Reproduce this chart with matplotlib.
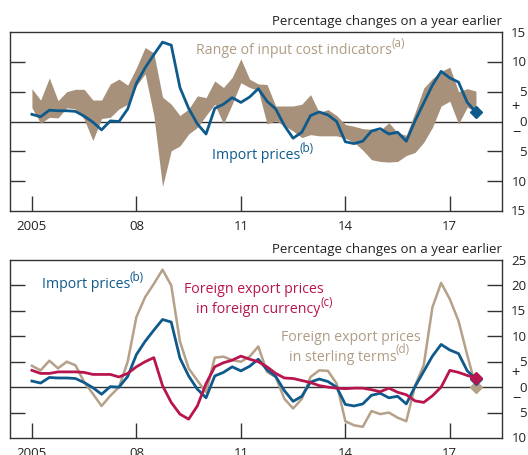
import matplotlib.pyplot as plt
import numpy as np

plt.rcParams['font.family'] = ['Open Sans', 'DejaVu Sans']

# quarterly, 2005 Q1 to 2017 Q4
quarters = 2005 + np.arange(52) / 4.0

# import prices (both panels)
import_prices = [1.2, 0.8, 1.9, 1.8, 1.8, 1.7, 0.9, -0.1, -1.4, 0.1, 0.0, 2.1,
                 6.4, 9.0, 11.2, 13.3, 12.8, 5.7, 2.2, -0.4, -2.1, 2.2, 2.9, 4.0,
                 3.2, 4.1, 5.5, 3.4, 2.1, -0.7, -2.8, -1.8, 1.0, 1.6, 1.1, 0.0,
                 -3.4, -3.7, -3.3, -1.6, -1.2, -2.1, -1.8, -3.3, 0.1, 3.1, 6.1, 8.4,
                 7.3, 6.6, 3.2, 1.6]

# range of input cost indicators
input_high = [5.5, 3.6, 7.3, 3.5, 5.0, 5.4, 5.4, 3.6, 3.6, 6.3, 7.1, 6.1,
              9.0, 12.4, 11.5, 4.1, 2.9, 1.0, 2.1, 4.3, 4.0, 6.8, 5.7, 7.4,
              10.5, 7.1, 6.3, 6.2, 2.6, 2.6, 2.6, 2.9, 4.5, 1.5, 2.0, 1.0,
              -0.5, -0.8, -1.2, -1.3, -1.5, -0.2, -1.9, -2.3, 1.5, 5.6, 7.2, 8.4,
              9.1, 5.0, 5.5, 5.1]
input_low = [2.3, -0.3, 0.7, 0.6, 2.3, 2.1, 0.4, -3.2, 0.5, 0.7, 2.1, 2.9,
             6.0, 8.0, 1.0, -10.9, -4.9, -4.1, -2.1, -1.0, 1.0, 2.9, -0.4, 2.9,
             6.5, 5.7, 5.2, -0.4, 0.1, -0.7, -1.6, -2.7, -2.2, -2.4, -2.4, -2.4,
             -2.8, -3.5, -4.8, -6.4, -6.7, -6.8, -6.7, -5.7, -5.2, -3.5, -1.0, 2.6,
             3.4, -0.4, 2.4, 1.6]

# foreign export prices in foreign currency
export_foreign = [3.3, 2.7, 2.7, 3.0, 3.0, 3.0, 2.9, 2.5, 2.5, 2.5, 2.0, 2.7,
                  4.0, 5.0, 5.8, 0.3, -3.0, -5.3, -6.3, -3.7, 0.7, 4.0, 4.8, 5.3,
                  6.1, 5.5, 5.0, 4.0, 2.7, 1.8, 1.7, 1.3, 0.9, 0.3, 0.0, -0.2,
                  -0.3, -0.2, -0.2, -0.5, -0.9, -0.2, -1.0, -1.5, -2.7, -3.0, -1.7, 0.0,
                  3.3, 2.9, 2.3, 1.8]

# foreign export prices in sterling terms
export_sterling = [4.2, 3.3, 5.2, 3.7, 5.0, 4.3, 1.0, -1.3, -3.7, -1.7, 0.0, 5.0,
                   13.8, 17.7, 20.3, 23.1, 20.0, 9.0, 3.7, 1.3, -1.0, 5.8, 6.0, 5.3,
                   5.0, 6.0, 8.0, 3.0, 2.0, -2.3, -4.2, -2.3, 2.0, 3.3, 3.2, 0.7,
                   -6.7, -7.5, -7.8, -4.7, -5.3, -5.0, -6.0, -6.7, 0.3, 4.3, 15.7, 20.5,
                   17.3, 13.0, 6.3, 0.0]

year_ticks = [2005, 2008, 2011, 2014, 2017]
year_labels = ['2005', '08', '11', '14', '17']

blue = '#0f5a8c'
band = '#a8917a'
tan = '#b5a088'
tan_text = '#b09c84'
crimson = '#b8154f'
dark = '#333333'
ink = '#222222'
fs = 9.5
lfs = 10.2

fig = plt.figure(figsize=(5.28, 4.56), dpi=100)
ax1 = fig.add_axes([0.0189, 0.5351, 0.932, 0.3925])
ax2 = fig.add_axes([0.0189, 0.0373, 0.932, 0.3903])


def style_axis(ax, lo, hi, marks, labels):
    ax.set_xlim(2004.37, 2018.5)
    ax.set_ylim(lo, hi)
    for s in ax.spines.values():
        s.set_color(dark)
        s.set_linewidth(1.0)
    ax.axhline(0, color=dark, lw=1.0, zorder=1)
    ax.set_xticks(year_ticks)
    ax.set_xticklabels(year_labels)
    ax.tick_params(axis='x', direction='in', length=10.5, width=1.0,
                   color=dark, pad=5.5, labelsize=fs, labelcolor=ink)
    ax.set_yticks(marks)
    ax.set_yticklabels([])
    ax.tick_params(axis='y', direction='in', length=10.5, width=1.0,
                   color=dark, left=True, right=True)
    # right-hand scale: values without signs, +/- either side of zero
    for v in labels:
        ax.annotate(str(abs(v)), xy=(1, v), xycoords=('axes fraction', 'data'),
                    xytext=(17.5, 0), textcoords='offset points',
                    ha='right', va='center', fontsize=fs, color=ink,
                    annotation_clip=False)
    ax.annotate('+', xy=(1, 0), xycoords=('axes fraction', 'data'),
                xytext=(10, 10.5), textcoords='offset points',
                ha='center', va='center', fontsize=10.5, color=ink)
    ax.annotate('\u2212', xy=(1, 0), xycoords=('axes fraction', 'data'),
                xytext=(10, -8), textcoords='offset points',
                ha='center', va='center', fontsize=10.5, color=ink)
    ax.text(1.0, 1.03, 'Percentage changes on a year earlier',
            transform=ax.transAxes, ha='right', va='bottom',
            fontsize=fs, color=ink)


def label(ax, x, y, text, note, color, ha='left'):
    # text with a raised footnote marker after it
    t = ax.text(x, y, text, fontsize=lfs, color=color, va='center', ha=ha)
    if note:
        ax.annotate(note, xy=(1, 0.55), xycoords=t, xytext=(-0.5, 0),
                    textcoords='offset points', fontsize=lfs * 0.82,
                    color=color, ha='left', va='bottom')
    return t


# top panel
style_axis(ax1, -15, 15, [-10, -5, 5, 10], [15, 10, 5, 0, -5, -10, -15])
ax1.fill_between(quarters, input_low, input_high, color=band, lw=0, zorder=2)
ax1.plot(quarters, import_prices, color=blue, lw=2.0, zorder=3)
ax1.plot(quarters[-1], import_prices[-1], marker='D', color=blue, ms=6, zorder=4)
label(ax1, 2009.71, 12.0, 'Range of input cost indicators', '(a)', tan_text)
label(ax1, 2010.17, -5.5, 'Import prices', '(b)', blue)

# bottom panel
style_axis(ax2, -10, 25, [-5, 5, 10, 15, 20], [25, 20, 15, 10, 5, 0, -5, -10])
ax2.plot(quarters, export_sterling, color=tan, lw=1.8, zorder=2)
ax2.plot(quarters, import_prices, color=blue, lw=2.0, zorder=3)
ax2.plot(quarters, export_foreign, color=crimson, lw=2.0, zorder=4)
ax2.plot(quarters[-1], export_sterling[-1], marker='D', color=tan, ms=6, zorder=5)
ax2.plot(quarters[-1], import_prices[-1], marker='D', color=blue, ms=6, zorder=5)
ax2.plot(quarters[-1], export_foreign[-1], marker='D', color=crimson, ms=6, zorder=6)
label(ax2, 2005.29, 20.3, 'Import prices', '(b)', blue)
label(ax2, 2011.36, 19.3, 'Foreign export prices', None, crimson, ha='center')
label(ax2, 2011.51, 15.5, 'in foreign currency', '(c)', crimson, ha='center')
label(ax2, 2014.17, 10.0, 'Foreign export prices', None, tan_text, ha='center')
label(ax2, 2013.92, 6.1, 'in sterling terms', '(d)', tan_text, ha='center')

fig.savefig('out.png', dpi=100)
